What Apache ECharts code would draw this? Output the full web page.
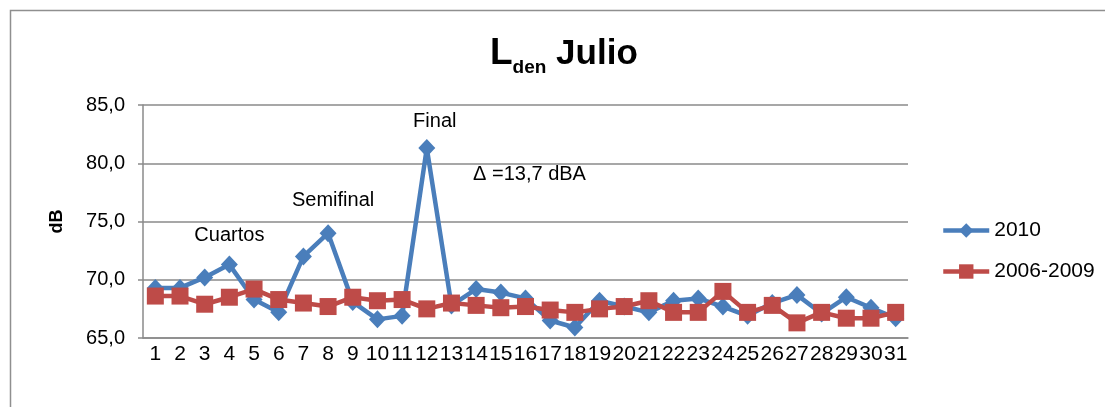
<!DOCTYPE html>
<html>
<head>
<meta charset="utf-8">
<script src="https://cdn.jsdelivr.net/npm/echarts@6/dist/echarts.min.js"></script>
<style>
html,body{margin:0;padding:0;background:#fff;}
#chart{width:1105px;height:407px;}
</style>
</head>
<body>
<div id="chart"></div>
<script>
var days = ['1','2','3','4','5','6','7','8','9','10','11','12','13','14','15','16','17','18','19','20','21','22','23','24','25','26','27','28','29','30','31'];
var values2010 = [69.3,69.3,70.2,71.3,68.3,67.2,72.0,74.0,68.1,66.6,66.9,81.3,67.8,69.2,68.9,68.4,66.5,65.9,68.2,67.7,67.2,68.2,68.4,67.7,66.9,68.0,68.7,67.1,68.5,67.6,66.7];
var values0609 = [68.6,68.6,67.9,68.5,69.2,68.3,68.0,67.7,68.5,68.2,68.3,67.5,68.0,67.8,67.6,67.7,67.4,67.2,67.5,67.7,68.2,67.2,67.2,69.0,67.2,67.8,66.3,67.2,66.7,66.7,67.2];
var seriesNames = ['2010','2006-2009'];
var yTicks = {min:65, max:85, step:5};
var notes = [
  {text:'Cuartos', day:'4', value:73.8, dx:0},
  {text:'Semifinal', day:'8', value:76.8, dx:5},
  {text:'Final', day:'12', value:83.6, dx:8},
  {text:'\u0394 =13,7 dBA', day:'16', value:79.0, dx:4}
];

var FONT = 'Liberation Sans, Arial, sans-serif';
var GRID = '#8a8a8a';
var chart = echarts.init(document.getElementById('chart'), null, {renderer:'canvas'});
chart.setOption({
  animation:false,
  backgroundColor:'#ffffff',
  textStyle:{fontFamily:FONT},
  title:{
    left:485, top:29,
    text:'{L|L}{d|den}{J| Julio}',
    textStyle:{
      rich:{
        L:{fontSize:37,fontWeight:'bold',color:'#000',fontFamily:FONT,lineHeight:40},
        d:{fontSize:19,fontWeight:'bold',color:'#000',fontFamily:FONT,lineHeight:40,verticalAlign:'bottom',padding:[0,0,-3,0]},
        J:{fontSize:35,fontWeight:'bold',color:'#000',fontFamily:FONT,lineHeight:40}
      }
    }
  },
  graphic:[{
    type:'rect', silent:true,
    shape:{x:10.5,y:10.5,width:1200,height:500},
    style:{fill:'none',stroke:'#8f8f8f',lineWidth:1.5}
  }],
  legend:{
    orient:'vertical', left:936, top:215, itemGap:20,
    itemWidth:46, itemHeight:18,
    lineStyle:{width:4.5},
    textStyle:{fontSize:21,color:'#000',fontFamily:FONT,lineHeight:21},
    data:seriesNames
  },
  grid:{left:143, right:197, top:105, bottom:69, containLabel:false},
  xAxis:{
    type:'category', data:days, boundaryGap:true,
    axisLine:{lineStyle:{color:GRID,width:1.5}},
    axisTick:{show:false},
    axisLabel:{interval:0,fontSize:21,color:'#000',margin:6,fontFamily:FONT}
  },
  yAxis:{
    type:'value', min:yTicks.min, max:yTicks.max, interval:yTicks.step,
    name:'dB', nameLocation:'middle', nameGap:77,
    nameTextStyle:{fontSize:18,fontWeight:'bold',color:'#000',fontFamily:FONT},
    axisLine:{show:true,lineStyle:{color:GRID,width:1.5}},
    axisTick:{show:true,length:5,lineStyle:{color:GRID,width:1.5}},
    splitLine:{lineStyle:{color:GRID,width:1.5}},
    axisLabel:{fontSize:20,color:'#000',margin:18,fontFamily:FONT,
      formatter:function(v){return v.toFixed(1).replace('.',',');}}
  },
  series:[
    {
      name:seriesNames[0], type:'line', data:values2010,
      symbol:'diamond', symbolSize:[17,18],
      lineStyle:{color:'#4A7EBB',width:4.5},
      itemStyle:{color:'#4A7EBB'},
      markPoint:{
        symbol:'circle', symbolSize:0, silent:true,
        label:{show:true,position:'inside',fontSize:20,color:'#000',fontFamily:FONT},
        data:notes.map(function(n){return {coord:[n.day,n.value],label:{formatter:n.text,offset:[n.dx,0]}};})
      }
    },
    {
      name:seriesNames[1], type:'line', data:values0609,
      symbol:'rect', symbolSize:17,
      lineStyle:{color:'#BE4B48',width:4.5},
      itemStyle:{color:'#BE4B48'}
    }
  ]
});
</script>
</body>
</html>
